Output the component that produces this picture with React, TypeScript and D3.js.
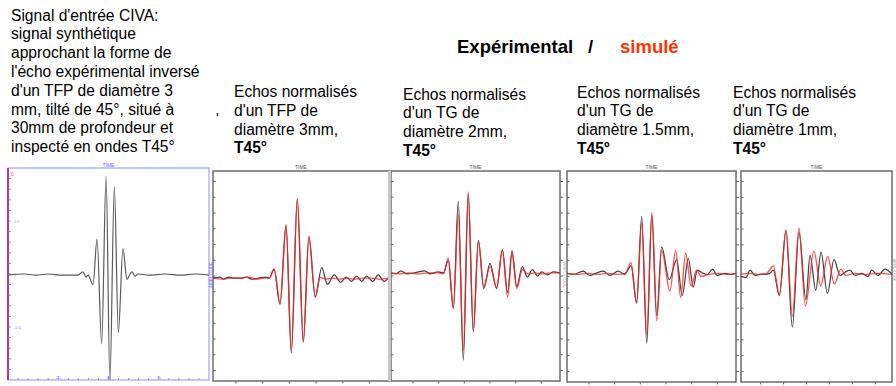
import React from 'react'
import * as d3 from 'd3'

// time in % of the window, amplitude normalised to the panel half height
const civaInput: [number, number][] = [
  [0, -0.01], [8, 0], [14, -0.01], [20, 0], [27, -0.01], [34.8, -0.01], [37.3, 0.02], [38.8, -0.03],
  [39.8, -0.01], [42.3, -0.1], [44.3, 0.33], [46.6, -0.66], [48.8, 0.92], [50.7, -1.0], [52.9, 0.82],
  [54.9, -0.55], [57.2, 0.24], [59.2, -0.05], [60.7, 0], [61.7, 0.02], [63.2, -0.02], [64.7, 0],
  [70, -0.01], [78, 0], [86, -0.01], [93, 0], [100, -0.01],
]

const tfp3Exp: [number, number][] = [
  [0, -0.02], [4, -0.01], [6, -0.03], [9, -0.01], [12, -0.02], [16, -0.02], [19, -0.01], [22, -0.03],
  [26, -0.02], [30, -0.01], [32, -0.02], [34.7, 0.06], [38.1, -0.27], [41.5, 0.48], [44.5, -0.73],
  [47.9, 0.73], [51.3, -0.63], [54.5, 0.37], [58.1, -0.2], [61.8, 0.08], [65, -0.08], [68.9, 0.01],
  [72.6, -0.06], [75.6, -0.01], [78.8, -0.05], [81.6, 0], [84.5, -0.05], [87.3, 0], [90.7, -0.05],
  [93.9, 0.01], [97.2, -0.05], [100, -0.01],
]
const tfp3Sim: [number, number][] = [
  [0, -0.02], [5, -0.03], [10, -0.02], [15, -0.02], [20, -0.01], [25, -0.03], [29, -0.02], [32, -0.02],
  [34.7, 0.07], [38.1, -0.26], [41.5, 0.49], [44.5, -0.71], [47.9, 0.74], [51.3, -0.62], [54.5, 0.38],
  [58.1, -0.2], [60.8, -0.01], [64, -0.03], [68, -0.02], [72, -0.03], [76, -0.02], [80, -0.03],
  [85, -0.02], [90, -0.02], [95, -0.03], [100, -0.02],
]

const tg2Exp: [number, number][] = [
  [0, 0.03], [3, 0.02], [6, 0.05], [9, 0.02], [14, 0.03], [20, 0.05], [23, 0.02], [28, 0.04], [31, 0.03],
  [33.9, 0.15], [36.9, -0.31], [39.8, 0.71], [42.8, -0.8], [45.7, 0.78], [48.7, -0.53], [51.7, 0.34],
  [54.9, -0.12], [58.6, 0.12], [62.5, -0.12], [65.9, 0.25], [69, -0.16], [71.6, 0.24], [74.4, -0.1],
  [77.7, 0.09], [80.7, -0.01], [83.6, 0.06], [86.8, 0], [89.2, 0.04], [92.7, 0.01], [95.9, 0.04], [100, 0.03],
]
const tg2Sim: [number, number][] = [
  [0, 0.03], [5, 0.02], [10, 0.03], [16, 0.02], [22, 0.03], [28, 0.03], [31, 0.02], [33.9, 0.17],
  [36.9, -0.3], [39.8, 0.58], [42.8, -0.71], [45.7, 0.8], [48.7, -0.52], [51.7, 0.33], [54.9, -0.1],
  [58.6, 0.09], [62.5, -0.11], [65.9, 0.25], [69, -0.2], [71.6, 0.22], [74.4, -0.12], [77.7, 0.06],
  [81, 0.02], [85, 0.03], [90, 0.02], [95, 0.03], [100, 0.03],
]

const tg15Exp: [number, number][] = [
  [0, 0.03], [4, 0.02], [9.6, 0.05], [13.6, 0.01], [17, 0.03], [21.5, 0.05], [25.4, 0.01], [30.4, 0.05],
  [34, 0.02], [37.9, 0.1], [41.2, -0.25], [44.2, 0.57], [47.2, -0.63], [50.2, 0.58], [53.1, -0.37],
  [56, 0.28], [60.5, -0.03], [64.9, 0.16], [68.2, -0.18], [71.8, 0.17], [74.7, -0.1], [77.1, 0.06],
  [80.5, 0.03], [83, 0.02], [86.2, 0.07], [88.8, 0.01], [93.5, 0.03], [97, 0.02], [100, 0.03],
]
const tg15Sim: [number, number][] = [
  [0, 0.03], [6, 0.02], [12, 0.03], [18, 0.02], [24, 0.03], [30, 0.02], [34.5, 0.03], [37.9, 0.13],
  [41.2, -0.25], [44.2, 0.51], [47.2, -0.55], [50.2, 0.61], [53.1, -0.42], [56, 0.25], [60.9, -0.14],
  [64.3, 0.25], [67.3, -0.2], [70.2, 0.22], [73.4, -0.09], [76.7, 0.06], [79.3, 0], [84, 0.02],
  [90, 0.03], [95, 0.02], [100, 0.03],
]

const tg1Exp: [number, number][] = [
  [0, 0], [3.3, -0.01], [6, 0.06], [9.3, 0.01], [12.6, 0.02], [16, 0.02], [19, 0.03], [21.4, 0.06],
  [25.4, -0.18], [29.8, 0.44], [34, -0.48], [38.4, 0.42], [43, -0.22], [45.7, 0.2], [49.5, -0.13],
  [53, 0.23], [57.2, -0.16], [61.6, 0.16], [65.6, 0.01], [68.9, 0.04], [72.2, 0.06], [75.5, 0.01],
  [80.1, 0.03], [84.1, 0], [86.6, 0.06], [90.7, 0.01], [95.4, 0.07], [100, 0.02],
]
const tg1Sim: [number, number][] = [
  [0, 0.02], [6, 0.03], [12, 0.02], [17, 0.03], [21.4, 0.1], [25.4, -0.18], [29.8, 0.44], [34, -0.38],
  [38.4, 0.46], [42.6, -0.28], [48.3, 0.24], [52.8, -0.09], [57.4, 0.19], [61.8, -0.07], [66.2, 0.07],
  [69.5, 0.01], [75, 0.03], [82, 0.02], [90, 0.03], [100, 0.02],
]

const introLines = [
  "Signal d'entrée CIVA:",
  'signal synthétique',
  'approchant la forme de',
  "l'écho expérimental inversé",
  "d'un TFP de diamètre 3",
  'mm, tilté de 45°, situé à',
  '30mm de profondeur et',
  'inspecté en ondes T45°',
]
const echoCaptions = [
  ['Echos normalisés', "d'un TFP de", 'diamètre 3mm,'],
  ['Echos normalisés', "d'un TG de", 'diamètre 2mm,'],
  ['Echos normalisés', "d'un TG de", 'diamètre 1.5mm,'],
  ['Echos normalisés', "d'un TG de", 'diamètre 1mm,'],
]
const waveLabel = 'T45°'
const civaTickLabels = ['25', '50', '75']
const civaAmpLabels = ['0.5', '0', '-0.5']

const echoSeries = [
  { exp: tfp3Exp, sim: tfp3Sim },
  { exp: tg2Exp, sim: tg2Sim },
  { exp: tg15Exp, sim: tg15Sim },
  { exp: tg1Exp, sim: tg1Sim },
]

const FONT = "'Liberation Sans', Arial, sans-serif"

const civaBox = { x: 8, y: 168, w: 201, h: 212 }
const echoBoxes = [
  { x: 213, y: 171, w: 176, h: 210, tx: 234, ty: 97 },
  { x: 391, y: 171, w: 169, h: 210, tx: 403, ty: 99.5 },
  { x: 567, y: 171, w: 169, h: 211, tx: 577, ty: 97.5 },
  { x: 741, y: 171, w: 151, h: 211, tx: 733, ty: 97.5 },
]

function scalesFor(b: { x: number; y: number; w: number; h: number }) {
  const x = d3.scaleLinear().domain([0, 100]).range([b.x, b.x + b.w])
  const y = d3.scaleLinear().domain([-1, 1]).range([b.y + b.h, b.y])
  const line = d3
    .line<[number, number]>()
    .x((d) => x(d[0]))
    .y((d) => y(d[1]))
    .curve(d3.curveMonotoneX)
  return { x, y, line }
}

function CivaPanel() {
  const b = civaBox
  const { x, y, line } = scalesFor(b)
  const timeTicks = d3.range(5, 100, 5)
  const ampTicks = d3.range(-0.9, 1.0, 0.1)
  return (
    <g>
      <rect x={b.x} y={b.y} width={b.w} height={b.h} fill="#fff" stroke="#8c8cff" strokeWidth={1} />
      <text x={b.x + b.w / 2} y={b.y - 1} fontSize={5} fill="#6a6aff" textAnchor="middle" fontFamily={FONT}>TIME</text>
      {ampTicks.map((t, i) => (
        <line key={'a' + i} x1={b.x} x2={b.x + 3} y1={y(t)} y2={y(t)} stroke="#8c8cff" strokeWidth={1} />
      ))}
      {timeTicks.map((t, i) => (
        <line key={'t' + i} x1={x(t)} x2={x(t)} y1={b.y + b.h} y2={b.y + b.h - (t % 25 === 0 ? 4 : 2)} stroke="#8c8cff" strokeWidth={1} />
      ))}
      {[25, 50, 75].map((t, i) => (
        <text key={'tl' + i} x={x(t)} y={b.y + b.h - 1} fontSize={4} fill="#8c8cff" textAnchor="middle" fontFamily={FONT}>{civaTickLabels[i]}</text>
      ))}
      {[0.5, 0, -0.5].map((a, i) => (
        <text key={'al' + i} x={b.x + 6} y={y(a) + 1.5} fontSize={4} fill="#8c8cff" fontFamily={FONT}>{civaAmpLabels[i]}</text>
      ))}
      <line x1={b.x} x2={b.x} y1={b.y} y2={b.y + b.h} stroke="#b8388a" strokeWidth={2} />
      <text x={b.x + 3} y={b.y + 8} fontSize={5} fill="#ff5050" fontFamily={FONT}>0</text>
      <path d={line(civaInput) || ''} fill="none" stroke="#5a5a5a" strokeWidth={1.2} />
    </g>
  )
}

function EchoPanel({ idx }: { idx: number }) {
  const b = echoBoxes[idx]
  const s = echoSeries[idx]
  const { x, y, line } = scalesFor(b)
  const ampTicks = d3.range(-0.9, 1.0, 0.15)
  const timeTicks = d3.range(13, 100, 15.2)
  const cap = echoCaptions[idx]
  return (
    <g>
      {cap.map((c, i) => (
        <text key={i} x={b.tx} y={b.ty + i * 18.8} fontSize={15.6} fontFamily={FONT} fill="#000">{c}</text>
      ))}
      <text x={b.tx} y={b.ty + 3 * 18.8} fontSize={15.6} fontWeight="bold" fontFamily={FONT} fill="#000">{waveLabel}</text>
      <rect x={b.x} y={b.y} width={b.w} height={b.h} fill="#fff" stroke="#6b6b6b" strokeWidth={1.5} />
      <text x={b.x + b.w / 2} y={b.y - 2} fontSize={5} fill="#555" textAnchor="middle" fontFamily={FONT}>TIME</text>
      {ampTicks.map((t, i) => (
        <line key={'a' + i} x1={b.x} x2={b.x + 2.5} y1={y(t)} y2={y(t)} stroke="#666" strokeWidth={1} />
      ))}
      {(idx === 1 || idx === 2) &&
        ampTicks.map((t, i) => (
          <line key={'r' + i} x1={b.x + b.w} x2={b.x + b.w + 3} y1={y(t)} y2={y(t)} stroke="#666" strokeWidth={1} />
        ))}
      {timeTicks.map((t, i) => (
        <line key={'t' + i} x1={x(t)} x2={x(t)} y1={b.y + b.h} y2={b.y + b.h + 2.5} stroke="#666" strokeWidth={1} />
      ))}
      {idx === 1 && <line x1={b.x - 1.5} x2={b.x - 1.5} y1={b.y} y2={b.y + b.h} stroke="#c8c8c8" strokeWidth={3} />}
      <path d={line(s.exp) || ''} fill="none" stroke="#404040" strokeWidth={1.25} />
      <path d={line(s.sim) || ''} fill="none" stroke="#ff2525" strokeWidth={1.35} strokeOpacity={0.8} />
    </g>
  )
}

export default function App() {
  return (
    <svg width={896} height={386} style={{ position: 'absolute', left: 0, top: 0, background: '#fff' }}>
      <rect width={896} height={386} fill="#fff" />
      {introLines.map((l, i) => (
        <text key={i} x={11} y={20.5 + i * 18.8} fontSize={15.6} fontFamily={FONT} fill="#000">{l}</text>
      ))}
      <text y={53} fontSize={18.5} fontWeight="bold" fontFamily={FONT}>
        <tspan x={457} fill="#000">Expérimental</tspan>
        <tspan x={588} fill="#000">/</tspan>
        <tspan x={620} fill="#ff3300">simulé</tspan>
      </text>
      <text x={216} y={123} fontSize={14} fontFamily={FONT} fill="#000">'</text>
      <CivaPanel />
      {echoBoxes.map((_, i) => (
        <EchoPanel key={i} idx={i} />
      ))}
      <text transform="translate(212.5,275) rotate(-90)" fontSize={4.5} fill="#6a6aff" textAnchor="middle" fontFamily={FONT}>AMPLITUDE</text>
      <text transform="translate(563,275) rotate(90)" fontSize={4.5} fill="#aaa" textAnchor="middle" fontFamily={FONT}>AMPLITUDE</text>
      <text transform="translate(892.5,270) rotate(90)" fontSize={4} fill="#aaa" textAnchor="middle" fontFamily={FONT}>AMPLITUDE</text>
    </svg>
  )
}
